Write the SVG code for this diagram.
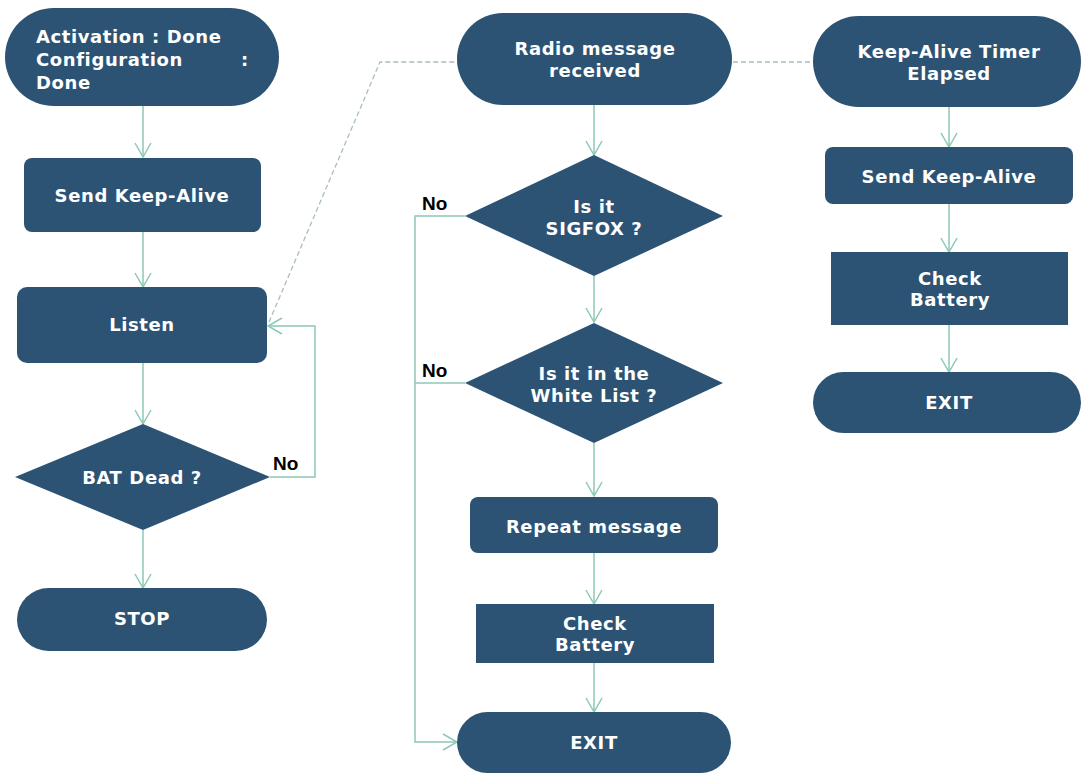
<svg xmlns="http://www.w3.org/2000/svg" width="1081" height="774" viewBox="0 0 1081 774">
<defs>
<marker id="arr" viewBox="0 0 16 18" refX="15" refY="9" markerWidth="16" markerHeight="18" markerUnits="userSpaceOnUse" orient="auto">
<path d="M1,1 L15,9 L1,17" fill="none" stroke="#8cc8b6" stroke-width="1.5"/>
</marker>
<style>
.n{fill:#2c5374;}
.t{fill:#ffffff;font-family:"DejaVu Sans",Verdana,sans-serif;font-weight:bold;font-size:18px;letter-spacing:0.6px;text-anchor:middle;}
.tl{text-anchor:start;}
.c{fill:none;stroke:#8cc8b6;stroke-width:1.5;}
.d{fill:none;stroke:#a9bcc4;stroke-width:1.3;stroke-dasharray:5 3;}
.lab{fill:#000;font-family:"Liberation Sans",Arial,sans-serif;font-weight:bold;font-size:19px;}
</style>
</defs>
<rect width="1081" height="774" fill="#ffffff"/>
<g id="connectors">
<path class="d" d="M269,322 L380,62 L458,62"/>
<path class="d" d="M733,62 L813,62"/>
<path class="c" d="M143,106 V157" marker-end="url(#arr)"/>
<path class="c" d="M143,232 V287" marker-end="url(#arr)"/>
<path class="c" d="M143,363 V424" marker-end="url(#arr)"/>
<path class="c" d="M270,477 H315 V326 H268" marker-end="url(#arr)"/>
<path class="c" d="M143,530 V588" marker-end="url(#arr)"/>
<path class="c" d="M594,105 V155" marker-end="url(#arr)"/>
<path class="c" d="M594,276 V322" marker-end="url(#arr)"/>
<path class="c" d="M594,443 V496" marker-end="url(#arr)"/>
<path class="c" d="M594,553 V604" marker-end="url(#arr)"/>
<path class="c" d="M594,663 V712" marker-end="url(#arr)"/>
<path class="c" d="M465,216 H415 V742 H457" marker-end="url(#arr)"/>
<path class="c" d="M465,383 H415"/>
<path class="c" d="M949,107 V147" marker-end="url(#arr)"/>
<path class="c" d="M949,204 V252" marker-end="url(#arr)"/>
<path class="c" d="M949,325 V372" marker-end="url(#arr)"/>
<text class="lab" x="273" y="470">No</text>
<text class="lab" x="422" y="210">No</text>
<text class="lab" x="422" y="377">No</text>
</g>
<g id="start">
<rect class="n" x="5" y="8" width="274" height="98" rx="49"/>
<text class="t tl" x="36" y="43">Activation : Done</text>
<text class="t tl" x="36" y="66">Configuration</text>
<text class="t tl" x="241" y="66">:</text>
<text class="t tl" x="36" y="89">Done</text>
</g>
<g id="sendKeepAlive1">
<rect class="n" x="24" y="158" width="237" height="74" rx="8"/>
<text class="t" x="142" y="202">Send Keep-Alive</text>
</g>
<g id="listen">
<rect class="n" x="17" y="287" width="250" height="76" rx="10"/>
<text class="t" x="142" y="331">Listen</text>
</g>
<g id="batDead">
<polygon class="n" points="143,424 270,477 143,530 15,477"/>
<text class="t" x="142" y="484">BAT Dead ?</text>
</g>
<g id="stop">
<rect class="n" x="17" y="588" width="250" height="63" rx="31.5"/>
<text class="t" x="142" y="625">STOP</text>
</g>
<g id="radioMsg">
<rect class="n" x="457" y="13" width="275" height="92" rx="46"/>
<text class="t" x="595" y="55">Radio message</text>
<text class="t" x="595" y="77">received</text>
</g>
<g id="isSigfox">
<polygon class="n" points="594,155 723,216 594,276 465,216"/>
<text class="t" x="594" y="213">Is it</text>
<text class="t" x="594" y="235">SIGFOX ?</text>
</g>
<g id="whiteList">
<polygon class="n" points="594,323 723,383 594,443 465,383"/>
<text class="t" x="594" y="380">Is it in the</text>
<text class="t" x="594" y="402">White List ?</text>
</g>
<g id="repeatMsg">
<rect class="n" x="470" y="497" width="248" height="56" rx="8"/>
<text class="t" x="594" y="533">Repeat message</text>
</g>
<g id="checkBattery1">
<rect class="n" x="476" y="604" width="238" height="59"/>
<text class="t" x="595" y="630">Check</text>
<text class="t" x="595" y="651">Battery</text>
</g>
<g id="exit1">
<rect class="n" x="457" y="712" width="274" height="61" rx="30.5"/>
<text class="t" x="594" y="749">EXIT</text>
</g>
<g id="kaTimer">
<rect class="n" x="813" y="16" width="268" height="91" rx="45.5"/>
<text class="t" x="949" y="58">Keep-Alive Timer</text>
<text class="t" x="949" y="80">Elapsed</text>
</g>
<g id="sendKeepAlive2">
<rect class="n" x="825" y="147" width="248" height="57" rx="8"/>
<text class="t" x="949" y="183">Send Keep-Alive</text>
</g>
<g id="checkBattery2">
<rect class="n" x="831" y="252" width="237" height="73"/>
<text class="t" x="950" y="285">Check</text>
<text class="t" x="950" y="306">Battery</text>
</g>
<g id="exit2">
<rect class="n" x="813" y="372" width="268" height="61" rx="30.5"/>
<text class="t" x="949" y="409">EXIT</text>
</g>
</svg>
